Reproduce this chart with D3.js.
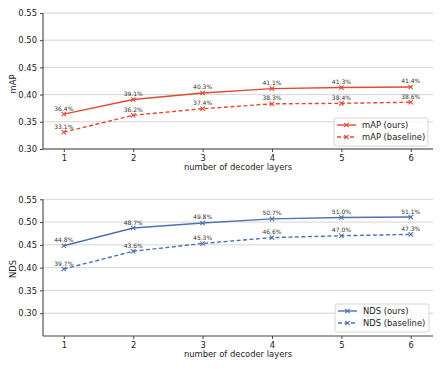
<!DOCTYPE html>
<html><head><meta charset="utf-8">
<script src="https://cdn.jsdelivr.net/npm/d3@7"></script>
<style>body{margin:0;background:#fff}svg{display:block}text{font-family:"DejaVu Sans",sans-serif}</style>
</head><body><svg id="c" width="447" height="369"></svg>
<script>
const layers = [1, 2, 3, 4, 5, 6];
const mapOurs = [0.364, 0.391, 0.403, 0.411, 0.413, 0.414];
const mapBase = [0.331, 0.362, 0.374, 0.383, 0.384, 0.386];
const ndsOurs = [0.448, 0.487, 0.498, 0.507, 0.510, 0.511];
const ndsBase = [0.397, 0.436, 0.453, 0.466, 0.470, 0.473];
const mapTicks = [0.30, 0.35, 0.40, 0.45, 0.50, 0.55];
const ndsTicks = [0.30, 0.35, 0.40, 0.45, 0.50, 0.55];
const xLabel = "number of decoder layers";

const svg = d3.select("#c");
const red = "#e24a33", blue = "#4c72b0";

function panel(cfg) {
  const g = svg.append("g");
  const x = d3.scaleLinear().domain([0.7, 6.32]).range([43, 433]);
  const y = d3.scaleLinear().domain(cfg.ydom).range([cfg.bottom, cfg.top]);
  // grid
  g.selectAll(".grid").data(cfg.ticks).enter().append("line")
    .attr("x1", 43).attr("x2", 433)
    .attr("y1", d => y(d)).attr("y2", d => y(d))
    .attr("stroke", "#d4d4d4").attr("stroke-width", 1);
  // axes
  const ya = d3.axisLeft(y).tickValues(cfg.ticks).tickFormat(d3.format(".2f")).tickSize(3).tickPadding(3);
  const ygr = g.append("g").attr("transform", "translate(43,0)").call(ya);
  const xa = d3.axisBottom(x).tickValues(layers).tickFormat(d3.format("d")).tickSize(3).tickPadding(3);
  const xgr = g.append("g").attr("transform", `translate(0,${cfg.bottom})`).call(xa);
  [ygr, xgr].forEach(a => {
    a.select(".domain").attr("stroke", "#444").attr("stroke-width", 1.1);
    a.selectAll(".tick line").attr("stroke", "#444");
    a.selectAll(".tick text").attr("fill", "#222").style("font-size", "8.4px").style("font-family", "DejaVu Sans");
  });
  ygr.select(".domain").attr("d", `M-0,${cfg.bottom}V${cfg.top}`);
  xgr.select(".domain").attr("d", `M43,0H433`);
  // labels
  g.append("text").attr("transform", `translate(16,${cfg.ylabY}) rotate(-90)`)
    .attr("text-anchor", "middle").style("font-size", "8.4px").attr("fill", "#222").text(cfg.ylabel);
  g.append("text").attr("x", 238).attr("y", cfg.xlabY).attr("text-anchor", "middle")
    .style("font-size", "8.4px").attr("fill", "#222").text(xLabel);
  // series
  const line = d3.line().x((d, i) => x(layers[i])).y(d => y(d));
  cfg.series.forEach(s => {
    g.append("path").datum(s.values).attr("d", line).attr("fill", "none")
      .attr("stroke", cfg.color).attr("stroke-width", 1.4)
      .attr("stroke-dasharray", s.dash ? "4,2.5" : null);
    const m = g.selectAll(null).data(s.values).enter().append("g")
      .attr("transform", (d, i) => `translate(${x(layers[i])},${y(d)})`);
    m.append("path").attr("d", "M-2.2,-2.2L2.2,2.2M-2.2,2.2L2.2,-2.2")
      .attr("stroke", cfg.color).attr("stroke-width", 1.1);
    g.selectAll(null).data(s.values).enter().append("text")
      .attr("x", (d, i) => x(layers[i])).attr("y", d => y(d) - 3.5)
      .attr("text-anchor", "middle").style("font-size", "6px").attr("fill", "#333")
      .text(d => (d * 100).toFixed(1) + "%");
  });
  // legend
  const L = g.append("g").attr("transform", `translate(${cfg.legX},${cfg.legY})`);
  L.append("rect").attr("width", 94).attr("height", 28).attr("rx", 2)
    .attr("fill", "#fff").attr("fill-opacity", 0.85).attr("stroke", "#cccccc").attr("stroke-width", 0.8);
  cfg.series.forEach((s, i) => {
    const yy = 7 + i * 12;
    L.append("line").attr("x1", 3).attr("x2", 22).attr("y1", yy).attr("y2", yy)
      .attr("stroke", cfg.color).attr("stroke-width", 1.4).attr("stroke-dasharray", s.dash ? "4,2.5" : null);
    L.append("path").attr("d", `M10.3,${yy-2.2}L14.7,${yy+2.2}M10.3,${yy+2.2}L14.7,${yy-2.2}`)
      .attr("stroke", cfg.color).attr("stroke-width", 1.1);
    L.append("text").attr("x", 28).attr("y", yy + 3).style("font-size", "8.4px").attr("fill", "#222").text(s.name);
  });
}

panel({ ydom: [0.30, 0.55], top: 13, bottom: 149, ticks: mapTicks, ylabel: "mAP", ylabY: 84, xlabY: 170,
  color: red, legX: 334, legY: 118,
  series: [{ name: "mAP (ours)", values: mapOurs, dash: false }, { name: "mAP (baseline)", values: mapBase, dash: true }] });
panel({ ydom: [0.25, 0.55], top: 199.3, bottom: 336, ticks: ndsTicks, ylabel: "NDS", ylabY: 269, xlabY: 357,
  color: blue, legX: 335, legY: 304,
  series: [{ name: "NDS (ours)", values: ndsOurs, dash: false }, { name: "NDS (baseline)", values: ndsBase, dash: true }] });
</script></body></html>
